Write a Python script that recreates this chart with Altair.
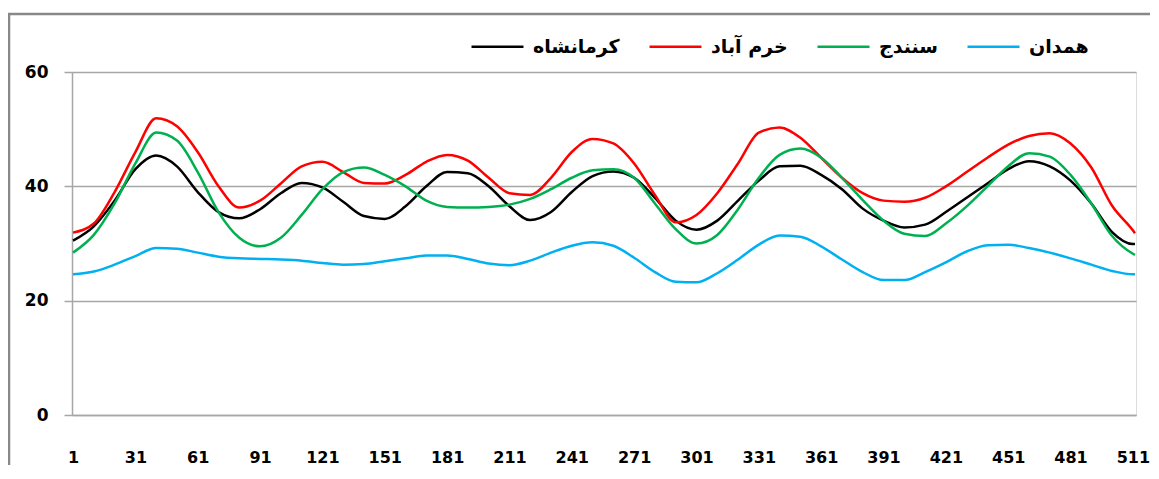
import altair as alt
import pandas as pd

days = [1, 11, 21, 31, 41, 51, 61, 71, 81, 91, 101, 111, 121, 131, 141, 151, 161, 171,
        181, 191, 201, 211, 221, 231, 241, 251, 261, 271, 281, 291, 301, 311, 321, 331,
        341, 351, 361, 371, 381, 391, 401, 411, 421, 431, 441, 451, 461, 471, 481, 491,
        501, 511, 512]

kermanshah = [30.5, 33.0, 37.5, 43.0, 45.4, 43.5, 39.0, 35.5, 34.4, 36.0, 38.8, 40.6, 39.8,
              37.3, 34.8, 34.3, 36.5, 40.0, 42.5, 42.3, 40.0, 36.5, 34.1, 35.5, 39.0, 41.8,
              42.6, 41.5, 38.0, 34.0, 32.4, 34.0, 37.5, 41.0, 43.5, 43.6, 42.0, 39.5, 36.1,
              34.0, 32.8, 33.3, 35.5, 38.0, 40.5, 43.0, 44.4, 43.5, 41.0, 37.0, 32.0, 29.9, 29.9]

khorramabad = [31.9, 33.5, 39.0, 46.0, 51.9, 50.5, 46.0, 40.0, 36.3, 37.5, 40.5, 43.5, 44.3,
               42.5, 40.6, 40.5, 42.0, 44.3, 45.5, 44.5, 41.5, 38.8, 38.5, 41.5, 46.0, 48.3,
               47.5, 44.0, 38.5, 33.7, 35.0, 38.8, 44.0, 49.4, 50.3, 48.5, 45.0, 41.5, 38.8,
               37.5, 37.3, 38.0, 40.0, 42.5, 45.0, 47.3, 48.8, 49.3, 47.5, 43.3, 36.6, 32.3, 31.8]

sanandaj = [28.4, 31.5, 37.0, 44.0, 49.4, 48.0, 42.5, 35.5, 31.0, 29.5, 31.0, 35.0, 39.5,
            42.5, 43.3, 42.0, 40.0, 37.5, 36.4, 36.3, 36.4, 36.8, 37.8, 39.5, 41.5, 42.8,
            43.0, 41.5, 37.0, 32.5, 30.0, 31.5, 36.0, 41.5, 45.5, 46.6, 45.0, 41.5, 37.6,
            34.0, 31.7, 31.3, 33.5, 36.5, 40.0, 43.5, 45.8, 45.2, 42.0, 37.0, 31.3, 28.2, 28.0]

hamedan = [24.6, 25.1, 26.3, 27.8, 29.2, 29.1, 28.4, 27.7, 27.4, 27.3, 27.2, 27.0, 26.6,
           26.3, 26.4, 26.9, 27.4, 27.9, 27.9, 27.3, 26.5, 26.2, 27.0, 28.4, 29.6, 30.2,
           29.6, 27.5, 25.0, 23.3, 23.2, 24.8, 27.2, 29.8, 31.4, 31.2, 29.5, 27.2, 25.0,
           23.6, 23.6, 25.0, 26.7, 28.6, 29.7, 29.8, 29.2, 28.4, 27.4, 26.3, 25.2, 24.6, 24.6]

names = ["کرمانشاه", "خرم آباد", "سنندج", "همدان"]
colors = ["#000000", "#ff0000", "#00b050", "#00b0f0"]
x_ticks = [1, 31, 61, 91, 121, 151, 181, 211, 241, 271, 301, 331, 361, 391, 421, 451, 481, 511]
y_ticks = [0, 20, 40, 60]

rows = []
for name, series in zip(names, [kermanshah, khorramabad, sanandaj, hamedan]):
    for d, v in zip(days, series):
        rows.append({"day": d, "value": v, "city": name})
df = pd.DataFrame(rows)

FONT = "DejaVu Sans"
GRID = "#a6a6a6"

lines = alt.Chart(df).mark_line(strokeWidth=2.5, interpolate="monotone").encode(
    x=alt.X("day:Q",
            scale=alt.Scale(domain=[0.5, 512.5], nice=False, zero=False),
            axis=alt.Axis(values=x_ticks, title=None, grid=False, ticks=False,
                          domain=True, domainColor=GRID, domainWidth=1.5,
                          labelFont=FONT, labelFontSize=16, labelFontWeight="bold",
                          labelColor="#000000", labelPadding=34, labelAngle=0,
                          labelFlush=False)),
    y=alt.Y("value:Q",
            scale=alt.Scale(domain=[0, 60], nice=False),
            axis=alt.Axis(values=y_ticks, title=None, grid=True, gridColor=GRID,
                          gridWidth=1.5, domain=True, domainColor=GRID, domainWidth=1.5,
                          ticks=True, tickSize=8, tickColor=GRID, tickWidth=1.5,
                          labelFont=FONT, labelFontSize=17, labelFontWeight="bold",
                          labelColor="#000000", labelPadding=16)),
    color=alt.Color("city:N",
                    scale=alt.Scale(domain=names, range=colors),
                    legend=alt.Legend(title=None, orient="none", direction="horizontal",
                                      legendX=398, legendY=-53,
                                      symbolType="stroke", symbolSize=2700,
                                      symbolStrokeWidth=2.5,
                                      labelFont=FONT, labelFontSize=19,
                                      labelFontWeight="bold", labelColor="#000000",
                                      columnPadding=24, labelOffset=8, labelLimit=300)),
)

frame_df = pd.DataFrame({"k": [0]})
frame_top = alt.Chart(frame_df).mark_rule(color="#888888", strokeWidth=2.5).encode(
    x=alt.value(-64), x2=alt.value(1078), y=alt.value(-58), y2=alt.value(-58))
frame_left = alt.Chart(frame_df).mark_rule(color="#888888", strokeWidth=2.5).encode(
    x=alt.value(-63), x2=alt.value(-63), y=alt.value(-59), y2=alt.value(393))

chart = alt.layer(frame_top, frame_left, lines).properties(
    width=1064, height=343,
    padding={"left": 64, "top": 64, "right": 15, "bottom": 50},
    autosize=alt.AutoSizeParams(type="none"),
).configure_view(stroke=None).configure(background="#ffffff")

chart.save("out.html", embed_options={"renderer": "svg", "actions": False})
